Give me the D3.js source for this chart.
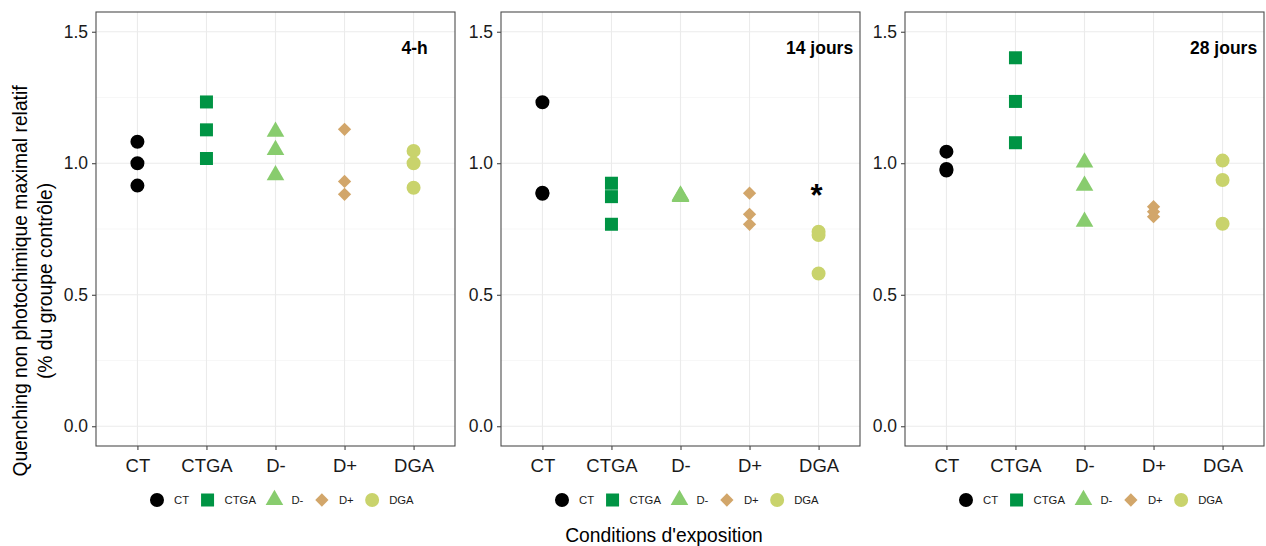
<!DOCTYPE html>
<html>
<head>
<meta charset="utf-8">
<script src="https://cdn.jsdelivr.net/npm/d3@7/dist/d3.min.js"></script>
<style>
  html, body { margin: 0; padding: 0; background: #ffffff; }
  svg { display: block; font-family: "Liberation Sans", Arial, sans-serif; }
</style>
</head>
<body>
<svg id="chart" width="1266" height="546"></svg>
<script>
// Exposure conditions (x categories) and panel titles
const categories = ["CT", "CTGA", "D-", "D+", "DGA"];
const panelTitles = ["4-h", "14 jours", "28 jours"];
const yTicks = [0, 0.5, 1.0, 1.5];
const yMinorTicks = [0.25, 0.75, 1.25];

// Relative maximal NPQ, one array per condition, per exposure time
const values4h = [
  [1.082, 1.000, 0.915],   // CT
  [1.233, 1.127, 1.018],   // CTGA
  [1.120, 1.051, 0.955],   // D-
  [1.129, 0.931, 0.882],   // D+
  [1.047, 1.000, 0.907]    // DGA
];
const values14j = [
  [1.232, 0.888, 0.884],
  [0.924, 0.873, 0.768],
  [0.878, 0.875, 0.872],
  [0.886, 0.806, 0.768],
  [0.740, 0.727, 0.581]
];
const values28j = [
  [1.044, 0.978, 0.972],
  [1.401, 1.235, 1.078],
  [1.003, 0.915, 0.778],
  [0.835, 0.816, 0.797],
  [1.010, 0.936, 0.770]
];
// Significance mark: panel index, category, y value
const sigPanel = [1];
const sigCategory = ["DGA"];
const sigValue = [0.89];

const panelValues = [values4h, values14j, values28j];

// Styling per condition
const colors = ["#000000", "#009444", "#88CC6E", "#D2A66A", "#C9D36C"];
const shapes = ["circle", "square", "triangle", "diamond", "circle"];

const svg = d3.select("#chart");
const panelLefts = [96, 501, 905];
const panelWidth = 359;
const plotTop = 12, plotBottom = 446;
const y = d3.scaleLinear().domain([-0.075, 1.575]).range([plotBottom, plotTop]);

function symbolPath(shape, scale) {
  const s = scale || 1;
  if (shape === "circle") return d3.symbol(d3.symbolCircle, 154 * s * s)();
  if (shape === "square") return d3.symbol(d3.symbolSquare, 169 * s * s)();
  if (shape === "triangle") return d3.symbol(d3.symbolTriangle, 135 * s * s)();
  return d3.symbol(d3.symbolSquare, 88 * s * s)();
}
function symbolRotate(shape) { return shape === "diamond" ? " rotate(45)" : ""; }

panelValues.forEach((vals, pi) => {
  const left = panelLefts[pi];
  const x = d3.scalePoint().domain(categories).range([left, left + panelWidth]).padding(0.6);
  const g = svg.append("g");

  // grid
  g.selectAll(".minor").data(yMinorTicks).enter().append("line")
    .attr("x1", left).attr("x2", left + panelWidth)
    .attr("y1", d => y(d)).attr("y2", d => y(d))
    .attr("stroke", "#f2f2f2").attr("stroke-width", 0.6);
  g.selectAll(".major").data(yTicks).enter().append("line")
    .attr("x1", left).attr("x2", left + panelWidth)
    .attr("y1", d => y(d)).attr("y2", d => y(d))
    .attr("stroke", "#ebebeb").attr("stroke-width", 1.1);
  g.selectAll(".vgrid").data(categories).enter().append("line")
    .attr("x1", d => x(d)).attr("x2", d => x(d))
    .attr("y1", plotTop).attr("y2", plotBottom)
    .attr("stroke", "#ebebeb").attr("stroke-width", 1.1);

  // axes
  const ya = g.append("g").attr("transform", `translate(${left},0)`)
    .call(d3.axisLeft(y).tickValues(yTicks).tickSize(4).tickPadding(4).tickFormat(d3.format(".1f")));
  const xa = g.append("g").attr("transform", `translate(0,${plotBottom})`)
    .call(d3.axisBottom(x).tickSize(4).tickPadding(5));
  [ya, xa].forEach(a => {
    a.select(".domain").remove();
    a.selectAll(".tick line").attr("stroke", "#333333");
    a.selectAll("text").attr("fill", "#1a1a1a")
      .style("font-family", '"Liberation Sans", Arial, sans-serif');
  });
  ya.selectAll("text").style("font-size", "17.5px");
  xa.selectAll("text").style("font-size", "18.5px").attr("dy", "0.92em");

  // points
  vals.forEach((arr, ci) => {
    g.selectAll(null).data(arr).enter().append("path")
      .attr("d", symbolPath(shapes[ci]))
      .attr("transform", d => `translate(${x(categories[ci])},${y(d)})` + symbolRotate(shapes[ci]))
      .attr("fill", colors[ci]);
  });

  // significance
  sigPanel.forEach((sp, si) => {
    if (sp === pi) {
      g.append("text").attr("x", x(sigCategory[si]) - 2).attr("y", y(sigValue[si]) + 14)
        .attr("text-anchor", "middle").attr("font-weight", "bold")
        .style("font-size", "31px").attr("fill", "#000").text("*");
    }
  });

  // panel title
  g.append("text").attr("x", x("DGA") + 1).attr("y", y(1.44))
    .attr("dy", "0.35em").attr("text-anchor", "middle")
    .attr("font-weight", "bold").style("font-size", "17.5px").attr("fill", "#000")
    .text(panelTitles[pi]);

  // border
  g.append("rect").attr("x", left).attr("y", plotTop)
    .attr("width", panelWidth).attr("height", plotBottom - plotTop)
    .attr("fill", "none").attr("stroke", "#4d4d4d").attr("stroke-width", 1.1);

  // legend
  const lg = g.append("g").attr("transform", `translate(0,500)`);
  let cx = left + 61;
  categories.forEach((c, ci) => {
    lg.append("path").attr("d", symbolPath(shapes[ci]))
      .attr("transform", `translate(${cx},0)` + symbolRotate(shapes[ci]))
      .attr("fill", colors[ci]);
    const t = lg.append("text").attr("x", cx + 17).attr("y", 0).attr("dy", "0.35em")
      .style("font-size", "11.3px").attr("fill", "#1a1a1a").text(c);
    cx = cx + 17 + t.node().getComputedTextLength() + 18.5;
  });
});

// shared axis titles
svg.append("text").attr("transform", "translate(27,281) rotate(-90)")
  .attr("text-anchor", "middle").style("font-size", "19.3px").attr("fill", "#000")
  .text("Quenching non photochimique maximal relatif");
svg.append("text").attr("transform", "translate(52,281) rotate(-90)")
  .attr("text-anchor", "middle").style("font-size", "19.3px").attr("fill", "#000")
  .text("(% du groupe contrôle)");
svg.append("text").attr("x", 664).attr("y", 542)
  .attr("text-anchor", "middle").style("font-size", "19.3px").attr("fill", "#000")
  .text("Conditions d'exposition");
</script>
</body>
</html>
